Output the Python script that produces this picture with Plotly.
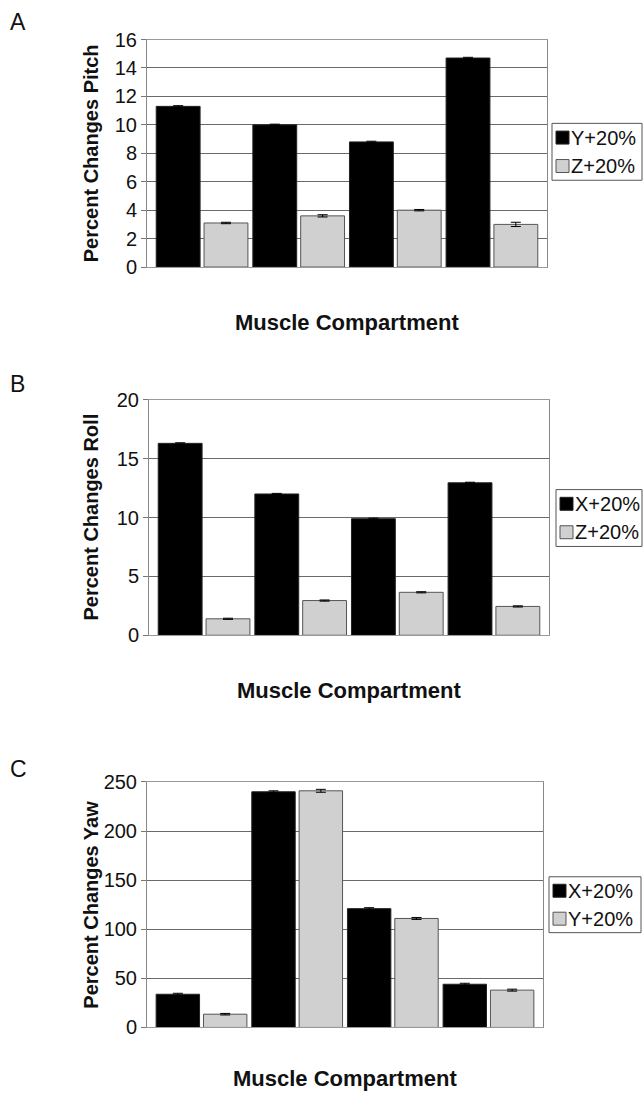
import plotly.graph_objects as go

categories = ["1", "2", "3", "4"]

# Panel A: pitch
pitch_y = [11.3, 10.0, 8.8, 14.7]
pitch_y_err = [0.05, 0.05, 0.05, 0.05]
pitch_z = [3.1, 3.6, 4.0, 3.0]
pitch_z_err = [0.05, 0.08, 0.05, 0.15]

# Panel B: roll
roll_x = [16.3, 12.0, 9.9, 12.95]
roll_x_err = [0.05, 0.05, 0.05, 0.05]
roll_z = [1.4, 2.95, 3.65, 2.45]
roll_z_err = [0.05, 0.05, 0.05, 0.05]

# Panel C: yaw
yaw_x = [33.8, 240, 121, 44]
yaw_x_err = [1.0, 1.0, 1.0, 1.0]
yaw_y = [13.5, 241, 111, 38]
yaw_y_err = [0.8, 1.5, 1.0, 1.0]

W, H = 644, 1096
FONT = "Liberation Sans, Arial, sans-serif"
BLACK = "#000000"
GRAY = "#d0d0d0"

# the photographed page comes out slightly squeezed vertically; compensate
Y_OFF, Y_SCALE = 10.4, 0.982


def px_x(v):
    return v / W


def px_y(v):
    return 1 - ((v - Y_OFF) / Y_SCALE) / H


panels = [
    dict(series=[(pitch_y, pitch_y_err, "Y+20%", BLACK), (pitch_z, pitch_z_err, "Z+20%", GRAY)],
         box=(147, 547, 39, 267), yrange=[0, 16], dtick=2, ytitle="Percent Changes Pitch",
         letter="A", letter_y=21, legend=(552, 642, 123, 180), xtitle_y=323),
    dict(series=[(roll_x, roll_x_err, "X+20%", BLACK), (roll_z, roll_z_err, "Z+20%", GRAY)],
         box=(149, 549, 400, 636), yrange=[0, 20], dtick=5, ytitle="Percent Changes Roll",
         letter="B", letter_y=384, legend=(556, 642, 490, 547), xtitle_y=691),
    dict(series=[(yaw_x, yaw_x_err, "X+20%", BLACK), (yaw_y, yaw_y_err, "Y+20%", GRAY)],
         box=(147, 543, 783, 1029), yrange=[0, 250], dtick=50, ytitle="Percent Changes Yaw",
         letter="C", letter_y=770, legend=(549, 641, 878, 934), xtitle_y=1080),
]

fig = go.Figure()
annotations = []
shapes = []
layout = {}
for i, p in enumerate(panels, start=1):
    sfx = "" if i == 1 else str(i)
    for vals, errs, name, color in p["series"]:
        fig.add_trace(go.Bar(
            x=categories, y=vals, name=name, showlegend=False,
            marker=dict(color=color, line=dict(color="#555555" if color == GRAY else "#222222", width=1)),
            error_y=dict(type="data", array=errs, visible=True, color="#000000", thickness=1, width=5),
            xaxis="x" + sfx, yaxis="y" + sfx,
        ))
    x0, x1, y0, y1 = p["box"]
    layout["xaxis" + sfx] = dict(
        domain=[px_x(x0), px_x(x1)], anchor="y" + sfx, type="category",
        range=[-0.57, 3.57], showticklabels=False, ticks="", showgrid=False,
        showline=True, linecolor="#999999", linewidth=1, mirror=True, zeroline=False,
    )
    layout["yaxis" + sfx] = dict(
        domain=[px_y(y1), px_y(y0)], anchor="x" + sfx, range=p["yrange"], dtick=p["dtick"],
        showgrid=True, gridcolor="#6a6a6a", gridwidth=1, ticks="outside", ticklen=5,
        tickcolor="#777777", showline=True, linecolor="#888888", linewidth=1, mirror=True,
        zeroline=False, tickfont=dict(family=FONT, size=20, color="#111111"),
    )
    lx0, lx1, ly0, ly1 = p["legend"]
    shapes.append(dict(type="rect", xref="paper", yref="paper",
                       x0=px_x(lx0), x1=px_x(lx1), y0=px_y(ly1), y1=px_y(ly0),
                       line=dict(color="#555555", width=1), fillcolor="white"))
    row_h = (ly1 - ly0) / 2
    for k, (vals, errs, name, color) in enumerate(p["series"]):
        cy = ly0 + row_h * (k + 0.5)
        shapes.append(dict(type="rect", xref="paper", yref="paper",
                           x0=px_x(lx0 + 4), x1=px_x(lx0 + 17), y0=px_y(cy + 6.5), y1=px_y(cy - 6.5),
                           line=dict(color="#555555" if color == GRAY else "#222222", width=1),
                           fillcolor=color))
        annotations.append(dict(
            text=name, x=px_x(lx0 + 17), y=px_y(cy), xref="paper", yref="paper",
            showarrow=False, xanchor="left", yanchor="middle",
            font=dict(family=FONT, size=20, color="#111111"),
        ))
    annotations.append(dict(
        text=p["ytitle"], textangle=-90, x=px_x(91), y=px_y((y0 + y1) / 2),
        xref="paper", yref="paper", showarrow=False, xanchor="center", yanchor="middle",
        font=dict(family=FONT, size=20, color="#111111", weight="bold"),
    ))
    annotations.append(dict(
        text="Muscle Compartment", x=px_x((x0 + x1) / 2), y=px_y(p["xtitle_y"]),
        xref="paper", yref="paper", showarrow=False, xanchor="center", yanchor="middle",
        font=dict(family=FONT, size=22, color="#111111", weight="bold"),
    ))
    annotations.append(dict(
        text=p["letter"], x=px_x(8), y=px_y(p["letter_y"]),
        xref="paper", yref="paper", showarrow=False, xanchor="left", yanchor="middle",
        font=dict(family=FONT, size=23, color="#111111"),
    ))

fig.update_layout(
    width=W, height=H, margin=dict(l=0, r=0, t=0, b=0),
    paper_bgcolor="white", plot_bgcolor="white",
    barmode="group", bargap=0.01, bargroupgap=0.083,
    showlegend=False, annotations=annotations, shapes=shapes, **layout,
)

fig.write_html(
    "out.html",
    config={"displayModeBar": False},
    post_script="document.body.style.margin='0';document.body.style.overflow='hidden';",
)
